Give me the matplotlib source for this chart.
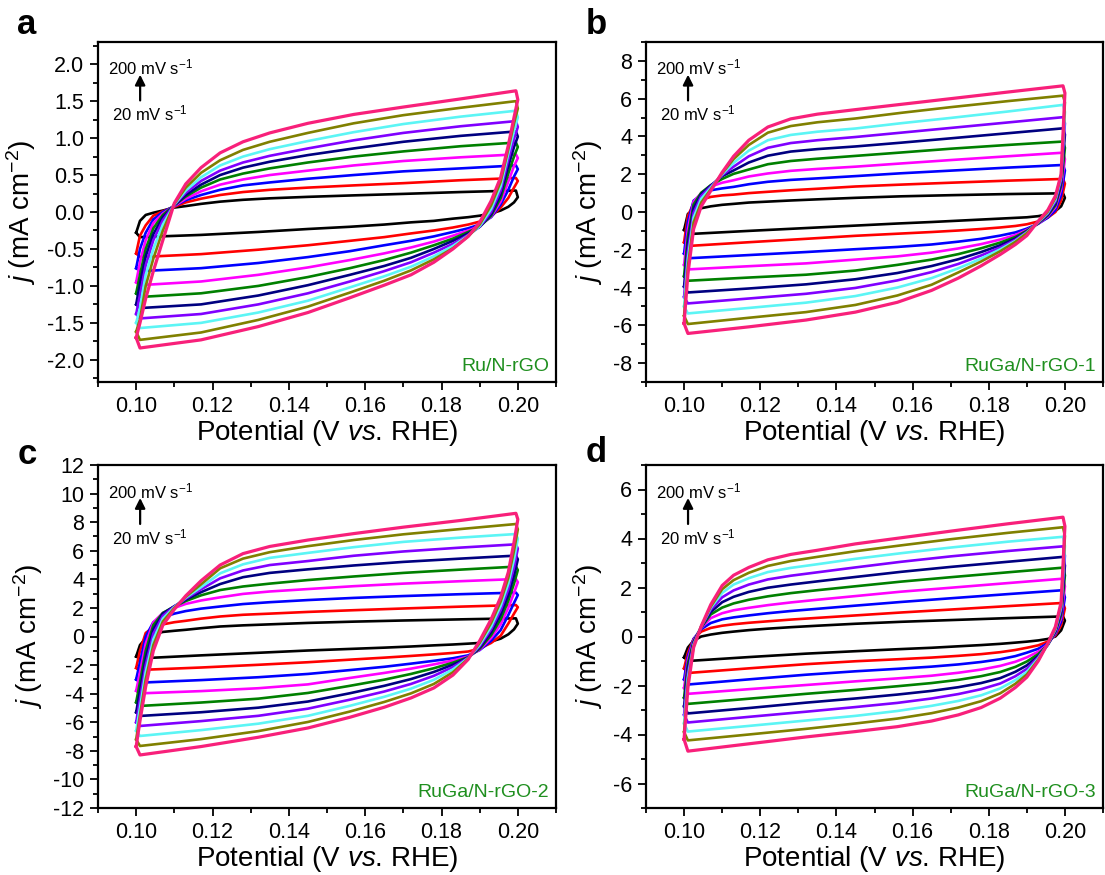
import numpy as np
import matplotlib
matplotlib.use("Agg")
import matplotlib.pyplot as plt
from matplotlib.ticker import MultipleLocator, FormatStrFormatter

plt.rcParams['font.family'] = ['Liberation Sans', 'DejaVu Sans']
plt.rcParams['mathtext.fontset'] = 'custom'
plt.rcParams['mathtext.rm'] = 'Liberation Sans'
plt.rcParams['mathtext.it'] = 'Liberation Sans:italic'
plt.rcParams['axes.unicode_minus'] = False

# scan rates, mV/s (inner -> outer loop)
rates = [20, 40, 60, 80, 100, 120, 140, 160, 180, 200]
colors = ['#000000', '#ff0000', '#0000ff', '#ff00ff', '#008000',
          '#000080', '#8000ff', '#5cf5f5', '#808000', '#f8207a']

# potentials (V vs RHE) of the read points: anodic sweep, then cathodic sweep
v_up = [0.1000, 0.1010, 0.1025, 0.1045, 0.1070, 0.1100, 0.1130, 0.1170,
        0.1220, 0.1280, 0.1350, 0.1450, 0.1570, 0.1700, 0.1850, 0.1995]
v_dn = [0.2000, 0.1990, 0.1975, 0.1955, 0.1930, 0.1900, 0.1870, 0.1830,
        0.1780, 0.1720, 0.1650, 0.1560, 0.1450, 0.1320, 0.1170, 0.1010]

# (a) Ru/N-rGO, j in mA cm-2
a_up = [[-0.28, -0.12, -0.04, -0.01, 0.02, 0.06, 0.08, 0.11, 0.14, 0.165, 0.185, 0.205, 0.225, 0.245, 0.27, 0.29],
        [-0.56, -0.32, -0.18, -0.05, 0.01, 0.07, 0.13, 0.18, 0.23, 0.27, 0.30, 0.33, 0.36, 0.39, 0.43, 0.46],
        [-0.76, -0.50, -0.28, -0.10, 0.00, 0.08, 0.16, 0.23, 0.30, 0.36, 0.40, 0.45, 0.50, 0.55, 0.59, 0.63],
        [-0.95, -0.68, -0.38, -0.15, -0.02, 0.08, 0.18, 0.28, 0.37, 0.44, 0.50, 0.56, 0.63, 0.69, 0.74, 0.78],
        [-1.10, -0.85, -0.50, -0.22, -0.04, 0.09, 0.21, 0.33, 0.44, 0.52, 0.59, 0.67, 0.75, 0.82, 0.89, 0.94],
        [-1.25, -0.97, -0.60, -0.30, -0.07, 0.09, 0.23, 0.37, 0.50, 0.60, 0.68, 0.77, 0.86, 0.95, 1.03, 1.09],
        [-1.38, -1.12, -0.72, -0.38, -0.11, 0.10, 0.26, 0.42, 0.56, 0.67, 0.76, 0.86, 0.97, 1.07, 1.16, 1.23],
        [-1.50, -1.30, -0.85, -0.50, -0.17, 0.10, 0.29, 0.47, 0.63, 0.75, 0.85, 0.96, 1.08, 1.19, 1.29, 1.37],
        [-1.62, -1.45, -1.00, -0.63, -0.25, 0.11, 0.33, 0.53, 0.70, 0.84, 0.95, 1.07, 1.20, 1.31, 1.41, 1.50],
        [-1.70, -1.50, -1.17, -0.80, -0.38, 0.12, 0.38, 0.60, 0.80, 0.95, 1.07, 1.20, 1.32, 1.42, 1.53, 1.64]]
a_dn = [[0.20, 0.13, 0.07, 0.02, -0.02, -0.05, -0.07, -0.09, -0.12, -0.14, -0.17, -0.20, -0.23, -0.27, -0.31, -0.34],
        [0.42, 0.33, 0.19, 0.06, -0.06, -0.13, -0.17, -0.21, -0.25, -0.29, -0.34, -0.39, -0.45, -0.51, -0.57, -0.61],
        [0.58, 0.48, 0.30, 0.10, -0.07, -0.17, -0.22, -0.27, -0.33, -0.39, -0.45, -0.53, -0.61, -0.69, -0.76, -0.80],
        [0.73, 0.62, 0.41, 0.14, -0.06, -0.19, -0.25, -0.32, -0.40, -0.48, -0.56, -0.65, -0.75, -0.85, -0.94, -0.99],
        [0.88, 0.75, 0.52, 0.19, -0.05, -0.20, -0.27, -0.36, -0.45, -0.55, -0.65, -0.76, -0.88, -1.00, -1.10, -1.15],
        [1.02, 0.88, 0.62, 0.24, -0.03, -0.20, -0.29, -0.39, -0.50, -0.62, -0.73, -0.85, -0.99, -1.13, -1.25, -1.30],
        [1.15, 0.99, 0.71, 0.29, 0.00, -0.20, -0.31, -0.43, -0.55, -0.68, -0.80, -0.94, -1.10, -1.25, -1.38, -1.44],
        [1.28, 1.10, 0.79, 0.35, 0.04, -0.19, -0.32, -0.46, -0.60, -0.74, -0.87, -1.02, -1.20, -1.36, -1.50, -1.57],
        [1.40, 1.20, 0.85, 0.41, 0.09, -0.17, -0.33, -0.49, -0.64, -0.79, -0.93, -1.09, -1.28, -1.46, -1.63, -1.73],
        [1.52, 1.28, 0.90, 0.47, 0.15, -0.14, -0.33, -0.50, -0.68, -0.85, -0.99, -1.16, -1.36, -1.55, -1.73, -1.84]]

# (b) RuGa/N-rGO-1
b_up = [[-0.95, -0.10, 0.10, 0.20, 0.30, 0.38, 0.43, 0.50, 0.55, 0.61, 0.67, 0.75, 0.83, 0.89, 0.95, 0.99],
        [-1.60, -0.20, 0.45, 0.65, 0.80, 0.88, 0.92, 1.00, 1.07, 1.15, 1.23, 1.35, 1.45, 1.55, 1.66, 1.75],
        [-2.20, -0.50, 0.60, 0.90, 1.15, 1.25, 1.33, 1.47, 1.60, 1.70, 1.78, 1.90, 2.05, 2.19, 2.35, 2.49],
        [-2.80, -0.90, 0.55, 1.00, 1.35, 1.55, 1.68, 1.88, 2.04, 2.18, 2.28, 2.40, 2.57, 2.75, 2.95, 3.14],
        [-3.40, -1.30, 0.40, 1.02, 1.42, 1.75, 2.02, 2.25, 2.53, 2.70, 2.82, 2.97, 3.15, 3.35, 3.55, 3.73],
        [-3.95, -1.70, 0.20, 0.95, 1.40, 1.90, 2.20, 2.62, 2.98, 3.20, 3.33, 3.47, 3.67, 3.90, 4.17, 4.43],
        [-4.50, -2.10, -0.05, 0.85, 1.35, 1.95, 2.40, 2.95, 3.40, 3.65, 3.80, 3.97, 4.20, 4.45, 4.74, 5.02],
        [-5.00, -2.50, -0.30, 0.70, 1.28, 2.00, 2.60, 3.25, 3.80, 4.08, 4.25, 4.42, 4.70, 4.98, 5.32, 5.67],
        [-5.50, -2.90, -0.55, 0.50, 1.20, 2.05, 2.80, 3.55, 4.20, 4.55, 4.75, 4.95, 5.25, 5.55, 5.87, 6.16],
        [-5.90, -3.30, -0.90, 0.30, 1.12, 2.10, 2.95, 3.80, 4.50, 4.93, 5.18, 5.42, 5.70, 6.00, 6.35, 6.68]]
b_dn = [[0.75, 0.30, 0.05, -0.12, -0.22, -0.28, -0.31, -0.35, -0.40, -0.46, -0.53, -0.61, -0.72, -0.85, -1.00, -1.17],
        [1.50, 0.60, 0.00, -0.30, -0.50, -0.65, -0.74, -0.82, -0.90, -0.98, -1.06, -1.15, -1.26, -1.42, -1.60, -1.80],
        [2.20, 0.90, 0.10, -0.30, -0.62, -0.88, -1.08, -1.25, -1.42, -1.57, -1.72, -1.85, -1.97, -2.12, -2.28, -2.45],
        [2.80, 1.20, 0.25, -0.23, -0.62, -0.95, -1.22, -1.46, -1.70, -1.93, -2.15, -2.35, -2.52, -2.72, -2.87, -3.04],
        [3.40, 1.40, 0.35, -0.18, -0.60, -0.99, -1.32, -1.62, -1.92, -2.23, -2.52, -2.80, -3.10, -3.32, -3.47, -3.64],
        [4.10, 1.55, 0.45, -0.13, -0.58, -1.03, -1.40, -1.76, -2.12, -2.50, -2.86, -3.23, -3.56, -3.83, -4.05, -4.26],
        [4.70, 1.70, 0.55, -0.08, -0.56, -1.06, -1.47, -1.88, -2.30, -2.75, -3.18, -3.62, -4.02, -4.33, -4.58, -4.84],
        [5.30, 1.85, 0.65, -0.03, -0.54, -1.09, -1.53, -1.98, -2.47, -2.98, -3.50, -4.00, -4.45, -4.80, -5.08, -5.37],
        [5.80, 1.95, 0.75, 0.02, -0.52, -1.12, -1.58, -2.08, -2.62, -3.20, -3.85, -4.42, -4.92, -5.30, -5.60, -5.93],
        [6.30, 2.00, 0.85, 0.10, -0.48, -1.25, -1.72, -2.25, -2.85, -3.50, -4.15, -4.78, -5.30, -5.72, -6.08, -6.43]]

# (c) RuGa/N-rGO-2
c_up = [[-1.40, -0.60, -0.12, 0.15, 0.32, 0.40, 0.47, 0.58, 0.70, 0.78, 0.85, 0.95, 1.04, 1.12, 1.20, 1.27],
        [-2.20, -1.00, 0.25, 0.65, 0.85, 1.00, 1.10, 1.25, 1.40, 1.52, 1.60, 1.72, 1.84, 1.96, 2.09, 2.20],
        [-3.00, -1.80, 0.00, 1.00, 1.35, 1.60, 1.78, 1.95, 2.10, 2.27, 2.40, 2.55, 2.70, 2.83, 2.96, 3.07],
        [-3.80, -2.50, -0.50, 1.00, 1.65, 2.00, 2.28, 2.52, 2.74, 2.98, 3.15, 3.32, 3.52, 3.70, 3.87, 4.02],
        [-4.60, -3.20, -1.00, 0.80, 1.65, 2.10, 2.48, 2.88, 3.25, 3.50, 3.70, 3.95, 4.20, 4.45, 4.68, 4.89],
        [-5.30, -3.80, -1.50, 0.50, 1.60, 2.12, 2.58, 3.10, 3.67, 4.15, 4.45, 4.70, 4.97, 5.22, 5.45, 5.66],
        [-6.00, -4.40, -2.00, 0.20, 1.45, 2.10, 2.65, 3.30, 4.07, 4.62, 5.00, 5.28, 5.65, 5.95, 6.22, 6.45],
        [-6.60, -5.00, -2.50, -0.20, 1.25, 2.05, 2.72, 3.45, 4.42, 5.05, 5.50, 5.85, 6.25, 6.62, 6.92, 7.17],
        [-7.20, -5.50, -3.00, -0.60, 1.05, 2.00, 2.78, 3.65, 4.77, 5.45, 5.90, 6.32, 6.75, 7.15, 7.52, 7.87],
        [-7.70, -5.90, -3.50, -1.00, 0.80, 1.90, 2.85, 3.90, 5.00, 5.80, 6.30, 6.75, 7.20, 7.65, 8.12, 8.62]]
c_dn = [[0.90, 0.50, 0.15, -0.15, -0.35, -0.45, -0.50, -0.56, -0.62, -0.70, -0.78, -0.87, -0.98, -1.14, -1.32, -1.53],
        [2.05, 1.60, 0.90, 0.05, -0.45, -0.85, -1.05, -1.15, -1.25, -1.36, -1.48, -1.62, -1.80, -1.98, -2.17, -2.34],
        [2.90, 2.35, 1.50, 0.45, -0.30, -0.95, -1.32, -1.52, -1.70, -1.90, -2.12, -2.35, -2.62, -2.85, -3.05, -3.23],
        [3.80, 3.05, 2.00, 0.85, -0.10, -0.92, -1.40, -1.68, -1.95, -2.25, -2.55, -2.90, -3.35, -3.62, -3.82, -3.98],
        [4.65, 3.70, 2.50, 1.20, 0.10, -0.86, -1.45, -1.83, -2.22, -2.62, -3.02, -3.45, -3.95, -4.35, -4.62, -4.86],
        [5.40, 4.25, 2.90, 1.55, 0.30, -0.78, -1.48, -1.97, -2.48, -2.98, -3.45, -3.97, -4.55, -4.98, -5.30, -5.56],
        [6.15, 4.85, 3.30, 1.85, 0.50, -0.68, -1.50, -2.13, -2.75, -3.32, -3.85, -4.42, -5.05, -5.55, -5.92, -6.26],
        [6.85, 5.40, 3.70, 2.15, 0.70, -0.58, -1.52, -2.30, -3.03, -3.65, -4.22, -4.85, -5.55, -6.10, -6.55, -6.96],
        [7.50, 6.00, 4.10, 2.45, 0.95, -0.45, -1.55, -2.50, -3.32, -3.98, -4.58, -5.25, -5.98, -6.62, -7.18, -7.66],
        [8.20, 6.60, 4.50, 2.75, 1.20, -0.30, -1.60, -2.70, -3.60, -4.30, -4.95, -5.65, -6.40, -7.05, -7.70, -8.29]]

# (d) RuGa/N-rGO-3
d_up = [[-0.85, -0.45, -0.17, 0.00, 0.08, 0.15, 0.20, 0.26, 0.32, 0.38, 0.44, 0.52, 0.60, 0.67, 0.75, 0.82],
        [-1.30, -0.65, -0.10, 0.20, 0.35, 0.44, 0.50, 0.56, 0.62, 0.69, 0.76, 0.86, 0.98, 1.10, 1.24, 1.37],
        [-1.75, -0.80, -0.10, 0.30, 0.55, 0.70, 0.78, 0.86, 0.95, 1.04, 1.13, 1.26, 1.41, 1.56, 1.73, 1.89],
        [-2.10, -0.95, -0.15, 0.35, 0.75, 0.95, 1.07, 1.17, 1.28, 1.39, 1.50, 1.65, 1.83, 1.99, 2.18, 2.36],
        [-2.50, -1.10, -0.20, 0.37, 0.90, 1.18, 1.35, 1.50, 1.64, 1.77, 1.89, 2.05, 2.24, 2.42, 2.62, 2.81],
        [-2.85, -1.30, -0.25, 0.39, 1.00, 1.40, 1.62, 1.82, 1.99, 2.12, 2.25, 2.43, 2.64, 2.84, 3.05, 3.25],
        [-3.20, -1.50, -0.30, 0.40, 1.10, 1.60, 1.88, 2.12, 2.33, 2.48, 2.62, 2.82, 3.05, 3.27, 3.49, 3.68],
        [-3.55, -1.70, -0.35, 0.41, 1.17, 1.78, 2.12, 2.38, 2.63, 2.80, 2.95, 3.17, 3.40, 3.63, 3.87, 4.07],
        [-3.90, -1.90, -0.40, 0.42, 1.22, 1.93, 2.30, 2.60, 2.88, 3.08, 3.25, 3.48, 3.72, 3.97, 4.23, 4.46],
        [-4.20, -2.10, -0.45, 0.42, 1.30, 2.08, 2.50, 2.82, 3.13, 3.35, 3.52, 3.78, 4.03, 4.30, 4.60, 4.87]]
d_dn = [[0.65, 0.25, 0.00, -0.10, -0.16, -0.21, -0.25, -0.30, -0.35, -0.40, -0.46, -0.52, -0.60, -0.70, -0.84, -1.00],
        [1.15, 0.45, 0.05, -0.21, -0.36, -0.46, -0.55, -0.64, -0.72, -0.79, -0.86, -0.93, -1.01, -1.13, -1.30, -1.49],
        [1.60, 0.60, 0.10, -0.28, -0.50, -0.66, -0.80, -0.93, -1.04, -1.14, -1.23, -1.32, -1.42, -1.56, -1.75, -1.96],
        [2.05, 0.75, 0.15, -0.33, -0.62, -0.85, -1.03, -1.20, -1.35, -1.48, -1.60, -1.71, -1.83, -1.98, -2.15, -2.34],
        [2.50, 0.88, 0.19, -0.34, -0.72, -1.02, -1.24, -1.45, -1.62, -1.77, -1.90, -2.03, -2.18, -2.34, -2.54, -2.75],
        [2.90, 1.00, 0.23, -0.34, -0.80, -1.18, -1.44, -1.70, -1.90, -2.07, -2.22, -2.37, -2.53, -2.70, -2.92, -3.14],
        [3.30, 1.10, 0.27, -0.33, -0.85, -1.32, -1.62, -1.92, -2.15, -2.35, -2.53, -2.71, -2.88, -3.07, -3.28, -3.51],
        [3.70, 1.20, 0.31, -0.32, -0.90, -1.45, -1.78, -2.12, -2.40, -2.63, -2.83, -3.04, -3.24, -3.43, -3.65, -3.88],
        [4.10, 1.30, 0.35, -0.30, -0.95, -1.55, -1.93, -2.32, -2.64, -2.90, -3.13, -3.35, -3.55, -3.77, -4.00, -4.24],
        [4.50, 1.40, 0.40, -0.28, -1.00, -1.66, -2.08, -2.52, -2.90, -3.20, -3.45, -3.68, -3.88, -4.10, -4.38, -4.68]]

letters = ['a', 'b', 'c', 'd']
samples = ['Ru/N-rGO', 'RuGa/N-rGO-1', 'RuGa/N-rGO-2', 'RuGa/N-rGO-3']
ups = [a_up, b_up, c_up, d_up]
dns = [a_dn, b_dn, c_dn, d_dn]
ylims = [2.3, 9, 12, 7]
ymajor = [0.5, 2, 2, 2]
yminor = [0.25, 1, 1, 1]
yfmt = ['%.1f', '%d', '%d', '%d']

W, H = 1105, 875
fig = plt.figure(figsize=(W / 100, H / 100), dpi=100)

# axes boxes in pixels: left, top, right, bottom
boxes = [(98, 42, 556, 382), (646, 42, 1103, 382),
         (98, 465, 556, 808), (646, 465, 1103, 808)]
letter_pos = [(27, 25), (596, 25), (27, 455), (596, 453)]

for i in range(4):
    l, t, r, b = boxes[i]
    ax = fig.add_axes([l / W, 1 - b / H, (r - l) / W, (b - t) / H])
    for k in range(len(rates)):
        x = v_up + v_dn + [v_up[0]]
        y = ups[i][k] + dns[i][k] + [ups[i][k][0]]
        ax.plot(x, y, color=colors[k], lw=2.3 if k == 9 else 1.9,
                solid_joinstyle='round', zorder=2 + k)

    ax.set_xlim(0.09, 0.21)
    ax.set_ylim(-ylims[i], ylims[i])
    ax.xaxis.set_major_locator(MultipleLocator(0.02))
    ax.xaxis.set_minor_locator(MultipleLocator(0.01))
    ax.xaxis.set_major_formatter(FormatStrFormatter('%.2f'))
    ax.yaxis.set_major_locator(MultipleLocator(ymajor[i]))
    ax.yaxis.set_minor_locator(MultipleLocator(yminor[i]))
    ax.yaxis.set_major_formatter(FormatStrFormatter(yfmt[i]))
    ax.tick_params(which='both', direction='out', top=False, right=False,
                   width=1.3, labelsize=15.5)
    ax.tick_params(which='major', length=6, pad=4)
    ax.tick_params(which='minor', length=3.5)
    for s in ax.spines.values():
        s.set_linewidth(1.6)

    ax.set_xlabel('Potential (V $\\mathit{vs}$. RHE)', fontsize=20, labelpad=1)
    ax.set_ylabel('$\\mathit{j}$ (mA cm$^{-2}$)', fontsize=20, labelpad=6)

    ax.text(0.022, 0.924, '200 mV s$^{-1}$', transform=ax.transAxes,
            fontsize=12, va='center', ha='left')
    ax.text(0.031, 0.79, '20 mV s$^{-1}$', transform=ax.transAxes,
            fontsize=12, va='center', ha='left')
    ax.annotate('', xy=(0.092, 0.912), xytext=(0.092, 0.82),
                xycoords='axes fraction',
                arrowprops=dict(arrowstyle='-|>', color='k', lw=1.6,
                                mutation_scale=15))
    ax.text(0.985, 0.045, samples[i], transform=ax.transAxes, fontsize=14,
            color='#1f8f1f', ha='right', va='center')

    fig.text(letter_pos[i][0] / W, 1 - letter_pos[i][1] / H, letters[i],
             fontsize=25, fontweight='bold', ha='center', va='center')

fig.savefig('out.png', dpi=100)
